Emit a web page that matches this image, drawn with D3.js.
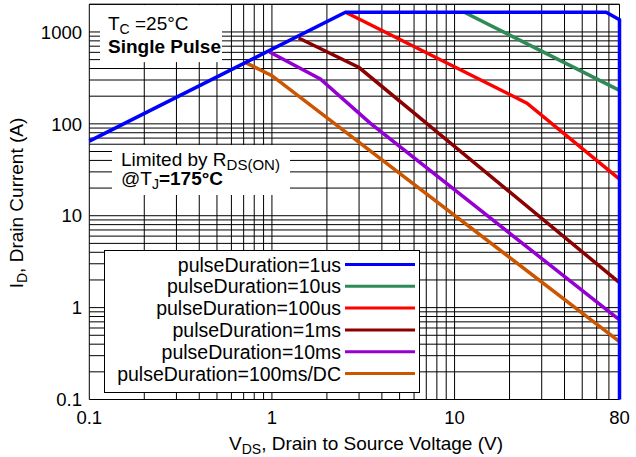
<!DOCTYPE html>
<html>
<head>
<meta charset="utf-8">
<script src="https://cdn.jsdelivr.net/npm/d3@7"></script>
<style>
  html, body { margin: 0; padding: 0; background: #fff; }
  svg { display: block; font-family: "Liberation Sans", Arial, Helvetica, sans-serif; }
</style>
</head>
<body>
<svg id="chart" width="636" height="457"></svg>
<script>
// ---- data ----
const seriesNames = ["pulseDuration=1us", "pulseDuration=10us", "pulseDuration=100us",
                     "pulseDuration=1ms", "pulseDuration=10ms", "pulseDuration=100ms/DC"];
const seriesColors = ["#0000ff", "#2e8b57", "#ff0000", "#8b0000", "#9400d3", "#cc5500"];

const vds_1us   = [0.1, 2.53, 67.6, 80, 80];
const id_1us    = [64.8, 1640, 1640, 1360, 0.1];
const vds_10us  = [11.3, 80];
const id_10us   = [1640, 231];
const vds_100us = [2.53, 24.9, 80];
const id_100us  = [1640, 168, 25];
const vds_1ms   = [1.40, 3.0, 80];
const id_1ms    = [860, 410, 1.87];
const vds_10ms  = [0.97, 1.84, 3.45, 80];
const id_10ms   = [605, 308, 102, 0.734];
const vds_100ms = [0.714, 1.0, 80];
const id_100ms  = [467, 334, 0.427];

const xTickValues = [0.1, 1, 10, 80];
const xTickLabels = ["0.1", "1", "10", "80"];
const yTickValues = [0.1, 1, 10, 100, 1000];
const yTickLabels = ["0.1", "1", "10", "100", "1000"];

const xDomain = [0.1, 80];
const yDomain = [0.1, 2000];

// ---- layout ----
const svg = d3.select("#chart");
const L = 89.3, R = 619.5, T = 4.3, B = 399.5;

const x = d3.scaleLog().domain(xDomain).range([L, R]);
const y = d3.scaleLog().domain(yDomain).range([B, T]);

// grid values: 1..9 in each decade
function gridVals(lo, hi) {
  const out = [];
  for (let e = -2; e <= 4; e++) {
    for (let m = 1; m <= 9; m++) {
      const v = m * Math.pow(10, e);
      if (v >= lo * 0.9999 && v <= hi * 1.0001) out.push(v);
    }
  }
  return out;
}
const xg = gridVals(xDomain[0], xDomain[1]);
const yg = gridVals(yDomain[0], yDomain[1]);

const grid = svg.append("g");
grid.selectAll("line.v").data(xg).join("line")
  .attr("x1", d => x(d)).attr("x2", d => x(d))
  .attr("y1", T).attr("y2", B)
  .attr("stroke", "#000").attr("stroke-width", 1);
grid.selectAll("line.h").data(yg).join("line")
  .attr("y1", d => y(d)).attr("y2", d => y(d))
  .attr("x1", L).attr("x2", R)
  .attr("stroke", "#000").attr("stroke-width", 1);

// ---- data lines ----
const series = [
  [vds_1us, id_1us], [vds_10us, id_10us], [vds_100us, id_100us],
  [vds_1ms, id_1ms], [vds_10ms, id_10ms], [vds_100ms, id_100ms]
];
const line = d3.line().x(d => x(d[0])).y(d => y(d[1]));
const drawOrder = [5, 4, 3, 2, 1, 0];
drawOrder.forEach(i => {
  const pts = series[i][0].map((v, k) => [v, series[i][1][k]]);
  svg.append("path").datum(pts)
    .attr("d", line)
    .attr("fill", "none")
    .attr("stroke", seriesColors[i])
    .attr("stroke-width", 3.5)
    .attr("stroke-linejoin", "miter");
});

// ---- annotation boxes ----
svg.append("rect").attr("x", 100).attr("y", T + 0.8).attr("width", 122).attr("height", 57)
  .attr("fill", "#fff");
svg.append("rect").attr("x", 112).attr("y", 145).attr("width", 178).attr("height", 50)
  .attr("fill", "#fff");

const t1 = svg.append("text").attr("x", 108).attr("y", 30).attr("font-size", 19);
t1.append("tspan").text("T");
t1.append("tspan").attr("font-size", 14).attr("dy", 4).text("C");
t1.append("tspan").attr("dy", -4).text(" =25\u00B0C");
svg.append("text").attr("x", 108).attr("y", 53).attr("font-size", 19)
  .attr("font-weight", "bold").text("Single Pulse");

const t2 = svg.append("text").attr("x", 121).attr("y", 166).attr("font-size", 19);
t2.append("tspan").text("Limited by R");
t2.append("tspan").attr("font-size", 15).attr("dy", 4).text("DS(ON)");
const t3 = svg.append("text").attr("x", 121).attr("y", 185).attr("font-size", 19);
t3.append("tspan").text("@T");
t3.append("tspan").attr("font-size", 14).attr("dy", 4).text("J");
t3.append("tspan").attr("dy", -4).attr("font-weight", "bold").text("=175\u00B0C");

// ---- plot frame (top border) ----
svg.append("line").attr("x1", L).attr("x2", R).attr("y1", T).attr("y2", T)
  .attr("stroke", "#000").attr("stroke-width", 1);

// ---- axes labels ----
svg.append("g").selectAll("text").data(yTickValues).join("text")
  .attr("x", 82).attr("y", d => y(d)).attr("dy", "0.36em")
  .attr("text-anchor", "end").attr("font-size", 18.5)
  .text((d, i) => yTickLabels[i]);
svg.append("g").selectAll("text").data(xTickValues).join("text")
  .attr("x", d => x(d)).attr("y", 424)
  .attr("text-anchor", "middle").attr("font-size", 18.5)
  .text((d, i) => xTickLabels[i]);

const xt = svg.append("text").attr("x", 366).attr("y", 450)
  .attr("text-anchor", "middle").attr("font-size", 19);
xt.append("tspan").text("V");
xt.append("tspan").attr("font-size", 14).attr("dy", 4).text("DS");
xt.append("tspan").attr("dy", -4).text(", Drain to Source Voltage (V)");

const yt = svg.append("text").attr("transform", "translate(23,203) rotate(-90)")
  .attr("text-anchor", "middle").attr("font-size", 19);
yt.append("tspan").text("I");
yt.append("tspan").attr("font-size", 14).attr("dy", 4).text("D");
yt.append("tspan").attr("dy", -4).text(", Drain Current (A)");

// ---- legend ----
const lg = svg.append("g");
lg.append("rect").attr("x", 104.5).attr("y", 250.5).attr("width", 315).attr("height", 142)
  .attr("fill", "#fff").attr("stroke", "#000").attr("stroke-width", 1);
const rowY0 = 264.5, rowStep = 21.8;
seriesNames.forEach((name, i) => {
  const yy = rowY0 + i * rowStep;
  lg.append("text").attr("x", 341).attr("y", yy).attr("dy", "0.36em")
    .attr("text-anchor", "end").attr("font-size", 19.5).text(name);
  lg.append("line").attr("x1", 345).attr("x2", 415).attr("y1", yy).attr("y2", yy)
    .attr("stroke", seriesColors[i]).attr("stroke-width", 3);
});
</script>
</body>
</html>
